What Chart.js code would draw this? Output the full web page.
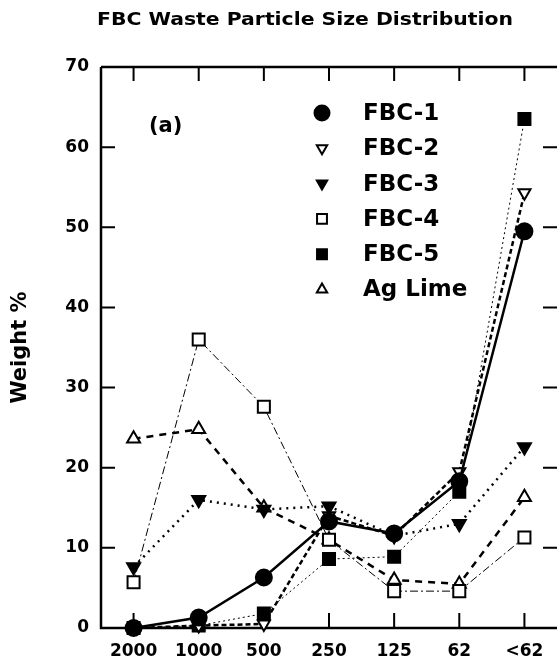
<!DOCTYPE html>
<html>
<head>
<meta charset="utf-8">
<script src="https://cdn.jsdelivr.net/npm/chart.js@4/dist/chart.umd.min.js"></script>
<style>
html, body { margin: 0; padding: 0; background: #fff; }
#wrap { width: 557px; height: 664px; }
</style>
</head>
<body>
<div id="wrap"><canvas id="canvas" width="557" height="664"></canvas></div>
<script>
// particle size classes (um)
var sizes = ['2000', '1000', '500', '250', '125', '62', '<62'];
var fbc1 = [0, 1.3, 6.3, 13.3, 11.8, 18.3, 49.5];
var fbc2 = [0, 0.3, 0.5, 14, 11.5, 19.5, 54.3];
var fbc3 = [7.6, 16, 14.8, 15.2, 11.5, 13, 22.6];
var fbc4 = [5.7, 36, 27.6, 11, 4.6, 4.6, 11.3];
var fbc5 = [0, 0.3, 1.8, 8.6, 8.9, 17, 63.5];
var agLime = [23.6, 24.8, 15, 11, 6, 5.5, 16.3];
var yTicks = [0, 10, 20, 30, 40, 50, 60, 70];

var boldFont = 'DejaVu Sans';

function series(label, data, style, rot, fill, r, dash, lw) {
  return {
    label: label,
    data: data,
    borderColor: '#000',
    borderWidth: lw,
    borderDash: dash,
    fill: false,
    tension: 0,
    clip: false,
    pointStyle: style,
    rotation: rot,
    pointRadius: r,
    pointHoverRadius: r,
    pointBackgroundColor: fill,
    pointBorderColor: '#000',
    pointBorderWidth: 2
  };
}

var datasets = [
  series('FBC-1', fbc1, 'circle', 0, '#000', 8, [], 2.5),
  series('FBC-2', fbc2, 'triangle', 180, '#fff', 7, [5, 3], 2.5),
  series('FBC-3', fbc3, 'triangle', 180, '#000', 7.5, [2, 5], 2.5),
  series('FBC-4', fbc4, 'rect', 0, '#fff', 8.5, [8, 3, 2, 3], 1),
  series('FBC-5', fbc5, 'rect', 0, '#000', 8.5, [2, 3], 1),
  series('Ag Lime', agLime, 'triangle', 0, '#fff', 7.5, [7, 6], 2.5)
];

// frame, inward ticks, title, panel tag and legend
var decor = {
  id: 'decor',
  beforeDatasetsDraw: function(chart) {
    var ctx = chart.ctx, a = chart.chartArea;
    var xs = chart.scales.x, ys = chart.scales.y;
    ctx.save();
    ctx.strokeStyle = '#000';
    ctx.lineWidth = 2.5;
    ctx.beginPath();
    ctx.moveTo(a.left, a.top);
    ctx.lineTo(a.right, a.top);
    ctx.moveTo(a.left, a.top);
    ctx.lineTo(a.left, a.bottom);
    ctx.lineTo(a.right, a.bottom);
    ctx.stroke();
    ctx.lineWidth = 2;
    ctx.beginPath();
    for (var i = 0; i < sizes.length; i++) {
      var px = xs.getPixelForValue(i);
      ctx.moveTo(px, a.top);
      ctx.lineTo(px, a.top + 14);
      ctx.moveTo(px, a.bottom);
      ctx.lineTo(px, a.bottom - 15);
    }
    for (var j = 1; j < yTicks.length - 1; j++) {
      var py = ys.getPixelForValue(yTicks[j]);
      ctx.moveTo(a.left, py);
      ctx.lineTo(a.left + 14, py);
      ctx.moveTo(a.right, py);
      ctx.lineTo(a.right - 14, py);
    }
    ctx.stroke();
    ctx.restore();
  },
  afterDraw: function(chart) {
    var ctx = chart.ctx;
    ctx.save();
    ctx.fillStyle = '#000';
    ctx.textBaseline = 'middle';
    ctx.textAlign = 'center';
    ctx.font = 'bold 17px ' + boldFont;
    var t = 'FBC Waste Particle Size Distribution';
    var sx = 416 / ctx.measureText(t).width;
    ctx.save();
    ctx.translate(305, 21);
    ctx.scale(sx, 1);
    ctx.fillText(t, 0, 0);
    ctx.restore();
    ctx.textAlign = 'left';
    ctx.font = 'bold 21px ' + boldFont;
    ctx.fillText('(a)', 149, 127);
    ctx.font = 'bold 23px ' + boldFont;
    for (var k = 0; k < datasets.length; k++) {
      var d = datasets[k];
      var y = 113 + k * 35.3;
      ctx.fillStyle = d.pointBackgroundColor;
      ctx.strokeStyle = '#000';
      ctx.lineWidth = 2;
      var rr = d.pointStyle === 'circle' ? 7.5 : (d.pointStyle === 'rect' ? 7 : 6);
      Chart.helpers.drawPoint(ctx, { pointStyle: d.pointStyle, radius: rr, rotation: d.rotation, borderWidth: 2 }, 322, y);
      ctx.fillStyle = '#000';
      ctx.fillText(d.label, 363, y + 1);
    }
    ctx.restore();
  }
};

var ctx = document.getElementById('canvas').getContext('2d');
var config = {
  type: 'line',
  data: { labels: sizes, datasets: datasets },
  options: {
    responsive: false,
    animation: false,
    devicePixelRatio: 1,
    layout: { autoPadding: false, padding: { top: 67, right: 0, bottom: 0, left: 0 } },
    plugins: {
      legend: { display: false },
      tooltip: { enabled: false }
    },
    scales: {
      x: {
        type: 'category',
        offset: true,
        grid: { display: false, drawTicks: false },
        border: { display: false },
        ticks: {
          color: '#000',
          font: { family: boldFont, weight: 'bold', size: 17 },
          padding: 13,
          maxRotation: 0,
          autoSkip: false
        },
        afterFit: function(s) {
          s.height = 36;
          s.paddingLeft = 0;
          s.paddingRight = 0;
        }
      },
      y: {
        min: 0,
        max: 70,
        grid: { display: false, drawTicks: false },
        border: { display: false },
        ticks: {
          stepSize: 10,
          color: '#000',
          font: { family: boldFont, weight: 'bold', size: 17 },
          padding: 12
        },
        title: {
          display: true,
          text: 'Weight %',
          color: '#000',
          font: { family: boldFont, weight: 'bold', size: 21 },
          padding: { top: 8, bottom: 0 }
        },
        afterFit: function(s) {
          s.width = 101;
          s.paddingTop = 0;
          s.paddingBottom = 0;
        }
      }
    }
  },
  plugins: [decor]
};

var chart = new Chart(ctx, config);
</script>
</body>
</html>
